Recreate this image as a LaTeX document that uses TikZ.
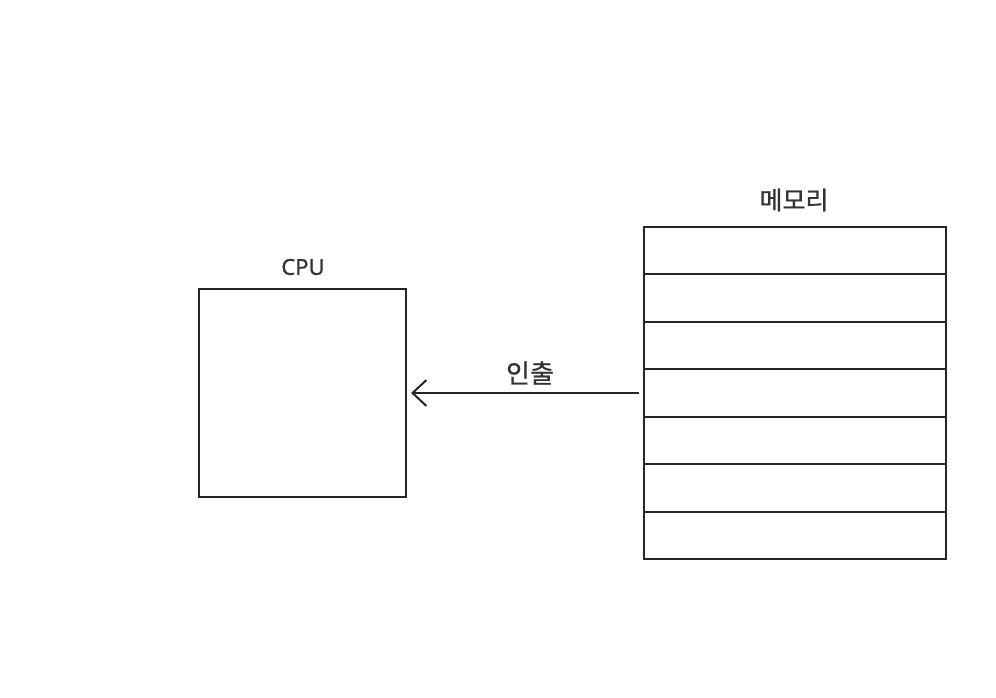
\documentclass[tikz,border=0pt]{standalone}
\usepackage{fontspec}
\setmainfont{Noto Sans}[FakeBold=0.6]
\newfontfamily\kofont{Noto Sans CJK KR}[FakeBold=0.6]
\usetikzlibrary{arrows.meta}
\begin{document}
\begin{tikzpicture}[x=1pt,y=-1pt,
  boxline/.style={draw=black!85,line width=2.2pt},
  rowline/.style={draw=black!85,line width=2pt},
  lbl/.style={text=black!80,font=\fontsize{22}{24}\selectfont},
  kolbl/.style={text=black!80,font=\kofont\fontsize{25}{28}\selectfont}]
\useasboundingbox (0,0) rectangle (996,698);
\fill[white] (0,0) rectangle (996,698);
% CPU
\node[boxline,minimum width=207pt,minimum height=208pt,inner sep=0pt] (cpu) at (302.5,393) {};
\node[lbl] (cpulbl) at (303,267) {CPU};
% Memory
\node[boxline,minimum width=302pt,minimum height=332pt,inner sep=0pt] (mem) at (795,393) {};
\node[kolbl] (memlbl) at (794,200) {메모리};
\foreach \i in {1,...,6}{
  \coordinate (l\i) at (644,227+\i*47.43);
  \coordinate (r\i) at (946,227+\i*47.43);
  \draw[rowline] (l\i) -- (r\i);
}
% arrow
\coordinate (astart) at (639,393);
\coordinate (aend) at (411,393);
\draw[draw=black!85,line width=2pt,-{Straight Barb[length=14pt,width=26pt,line width=2pt]}] (astart) -- (aend);
\node[kolbl,font=\kofont\fontsize{26}{28}\selectfont] (fetch) at (530,373) {인출};
\end{tikzpicture}
\end{document}
